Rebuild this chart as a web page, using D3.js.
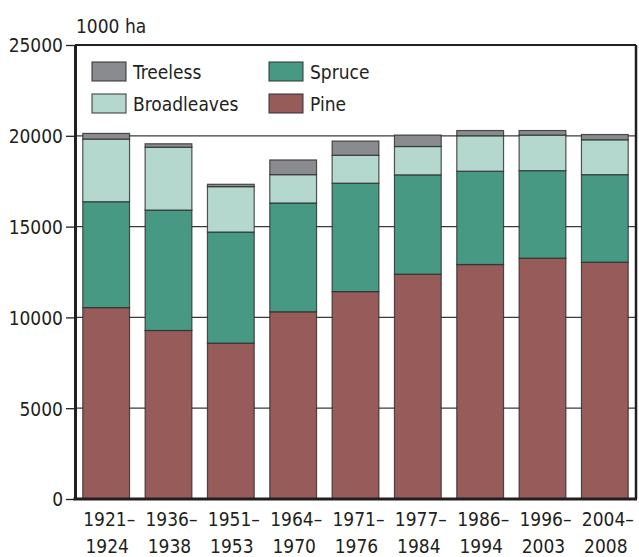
<!DOCTYPE html>
<meta charset="utf-8">
<style>
body { margin: 0; background: #fff; }
text {
  font-family: "DejaVu Sans Condensed", "DejaVu Sans", sans-serif;
  font-stretch: condensed;
  fill: #231f20;
}
.grid line { stroke: #3a3a3a; stroke-width: 1.3px; }
.bar rect { stroke: #2a2a2a; stroke-opacity: 0.8; stroke-width: 1.2px; }
</style>
<svg width="639" height="557"></svg>
<script src="https://d3js.org/d3.v7.min.js"></script>
<script>

var periods = [["1921–", "1924"], ["1936–", "1938"], ["1951–", "1953"], ["1964–", "1970"],
               ["1971–", "1976"], ["1977–", "1984"], ["1986–", "1994"], ["1996–", "2003"], ["2004–", "2008"]];

// 1000 ha
var pine        = [10540, 9280, 8580, 10310, 11420, 12380, 12910, 13260, 13040];
var spruce      = [5830, 6630, 6120, 5990, 5970, 5470, 5140, 4820, 4820];
var broadleaves = [3450, 3460, 2500, 1560, 1540, 1560, 1950, 1960, 1920];
var treeless    = [310, 190, 130, 810, 780, 630, 290, 250, 290];

var keys = ["Pine", "Spruce", "Broadleaves", "Treeless"];
var colors = {Pine: "#975b5a", Spruce: "#479983", Broadleaves: "#b5d8ce", Treeless: "#8a8b8f"};
var yTicks = [0, 5000, 10000, 15000, 20000, 25000];

var rows = periods.map(function(p, i) {
  return {period: p.join(""), Pine: pine[i], Spruce: spruce[i], Broadleaves: broadleaves[i], Treeless: treeless[i]};
});

var svg = d3.select("svg"),
    margin = {left: 75, right: 3, top: 45, bottom: 58},
    width = +svg.attr("width") - margin.left - margin.right,
    height = +svg.attr("height") - margin.top - margin.bottom;

var x = d3.scaleBand()
    .domain(rows.map(function(d) { return d.period; }))
    .range([0, width])
    .paddingInner(0.25)
    .paddingOuter(0.125);

var y = d3.scaleLinear()
    .domain([0, 25000])
    .range([height, 0]);

var g = svg.append("g")
    .attr("transform", "translate(" + margin.left + "," + margin.top + ")");

// grid lines behind the bars
g.append("g")
    .attr("class", "grid")
  .selectAll("line")
  .data(yTicks.slice(1, -1))
  .enter().append("line")
    .attr("x1", 0)
    .attr("x2", width)
    .attr("y1", function(d) { return y(d); })
    .attr("y2", function(d) { return y(d); });

var stack = d3.stack().keys(keys)(rows);

g.selectAll(".bar")
  .data(stack)
  .enter().append("g")
    .attr("class", "bar")
    .attr("fill", function(d) { return colors[d.key]; })
  .selectAll("rect")
  .data(function(d) { return d; })
  .enter().append("rect")
    .attr("x", function(d) { return x(d.data.period); })
    .attr("width", x.bandwidth())
    .attr("y", function(d) { return y(d[1]); })
    .attr("height", function(d) { return y(d[0]) - y(d[1]); });

// frame: thin top/right, thick left/bottom
g.append("line")
    .attr("x1", 0).attr("x2", width)
    .attr("y1", 0).attr("y2", 0)
    .attr("stroke", "#231f20").attr("stroke-width", 2);
g.append("line")
    .attr("x1", width).attr("x2", width)
    .attr("y1", 0).attr("y2", height)
    .attr("stroke", "#231f20").attr("stroke-width", 2.5);

var yAxis = g.append("g")
    .call(d3.axisLeft(y).tickValues(yTicks).tickFormat(d3.format("d"))
      .tickSize(9).tickSizeOuter(0).tickPadding(3));
yAxis.select(".domain").attr("stroke", "#231f20").attr("stroke-width", 3);
yAxis.selectAll(".tick line").attr("stroke", "#231f20").attr("stroke-width", 1.3);
yAxis.selectAll(".tick text")
    .attr("fill", "#231f20")
    .style("font-size", "19px")
    .attr("dy", "0.36em");

g.append("line")
    .attr("x1", -1.5).attr("x2", width + 1)
    .attr("y1", height).attr("y2", height)
    .attr("stroke", "#231f20").attr("stroke-width", 3);

// x labels on two lines
var xl = g.append("g")
  .selectAll("text")
  .data(rows)
  .enter().append("text")
    .attr("text-anchor", "middle")
    .style("font-size", "19px")
    .attr("transform", function(d) { return "translate(" + (x(d.period) + x.bandwidth() / 2 + 1) + "," + (height + 27) + ")"; });
xl.append("tspan")
    .attr("x", 0).attr("dx", 2)
    .text(function(d, i) { return periods[i][0]; });
xl.append("tspan")
    .attr("x", 0).attr("dy", 27)
    .text(function(d, i) { return periods[i][1]; });

// unit label
svg.append("text")
    .attr("x", 76)
    .attr("y", 33)
    .style("font-size", "19px")
    .text("1000 ha");

// legend
var legendOrder = [["Treeless", 0, 0], ["Spruce", 1, 0], ["Broadleaves", 0, 1], ["Pine", 1, 1]];
var legend = svg.append("g")
  .selectAll("g")
  .data(legendOrder)
  .enter().append("g")
    .attr("transform", function(d) { return "translate(" + (92 + d[1] * 177) + "," + (62 + d[2] * 32) + ")"; });
legend.append("rect")
    .attr("width", 34)
    .attr("height", 19)
    .attr("fill", function(d) { return colors[d[0]]; })
    .attr("stroke", "#2a2a2a")
    .attr("stroke-opacity", 0.8)
    .attr("stroke-width", 1.2);
legend.append("text")
    .attr("x", 41)
    .attr("y", 17)
    .style("font-size", "19px")
    .text(function(d) { return d[0]; });

</script>
